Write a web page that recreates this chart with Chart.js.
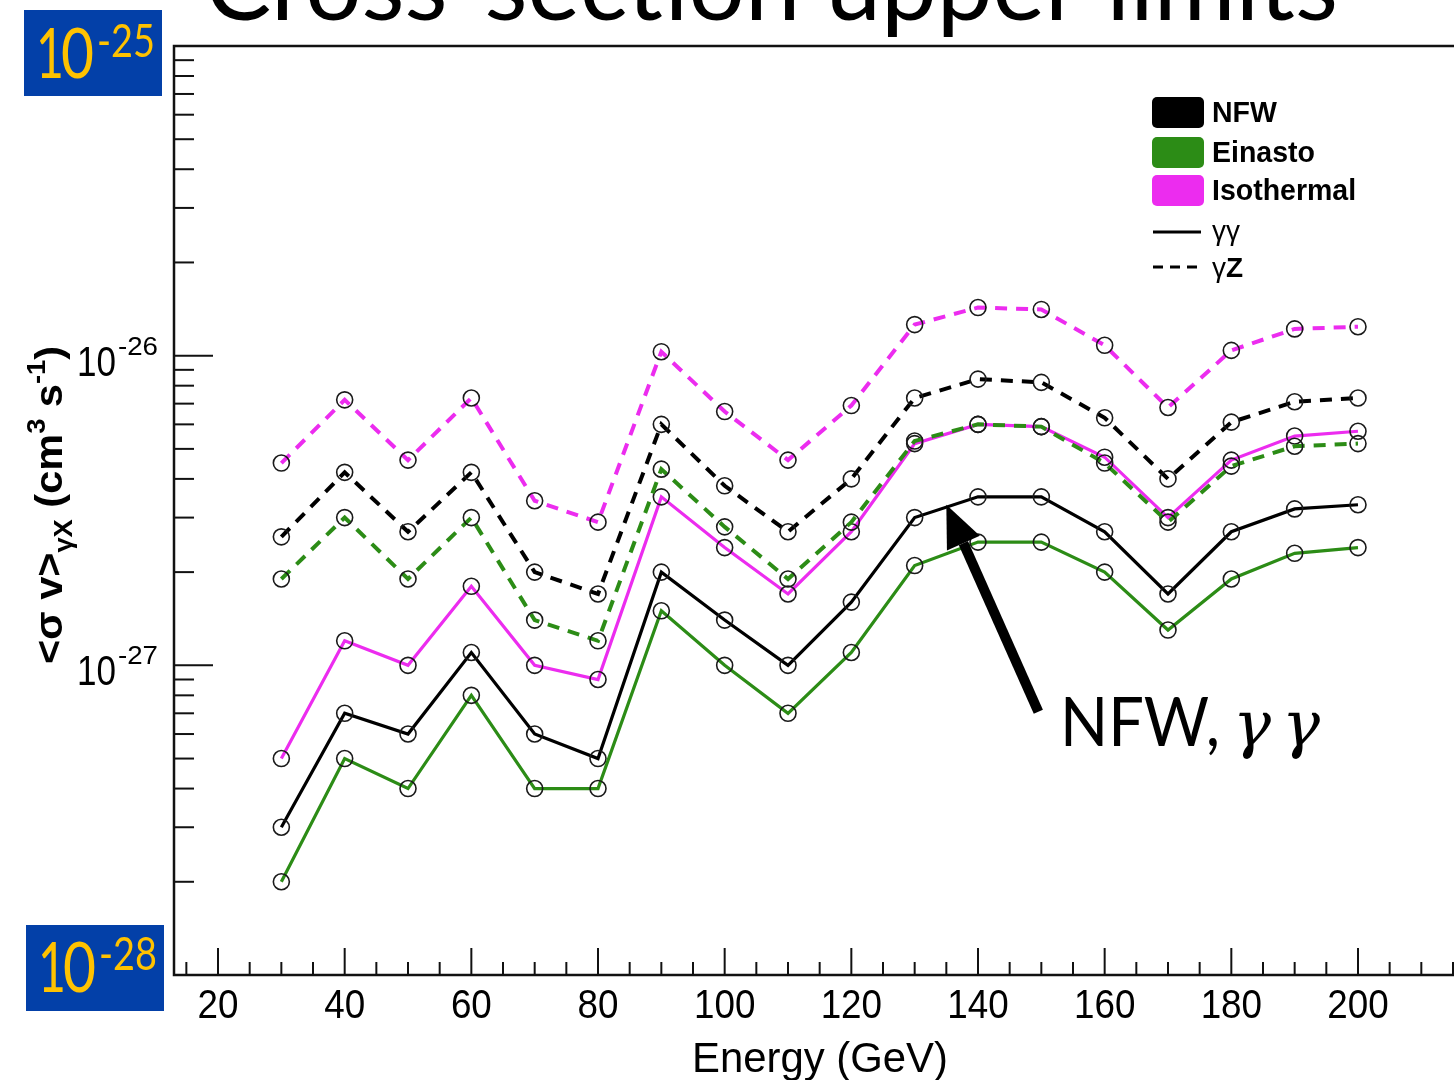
<!DOCTYPE html>
<html>
<head>
<meta charset="utf-8">
<script src="https://cdn.jsdelivr.net/npm/chart.js@4.4.1/dist/chart.umd.min.js"></script>
<style>
  html, body { margin: 0; padding: 0; background: #fff; }
  #wrap { width: 1454px; height: 1080px; }
</style>
</head>
<body>
<div id="wrap"><canvas id="myChart" width="1454" height="1080"></canvas></div>
<script>
// energies in GeV
const energies = [30, 40, 50, 60, 70, 80, 90, 100, 110, 120, 130, 140, 150, 160, 170, 180, 190, 200];

// upper limits, in units of 1e-27 cm^3 s^-1
const UNIT = 1e-27;
const nfwGG = [0.30, 0.70, 0.60, 1.1, 0.60, 0.50, 2.0, 1.4, 1.0, 1.6, 3.0, 3.5, 3.5, 2.7, 1.7, 2.7, 3.2, 3.3];
const einastoGG = [0.20, 0.50, 0.40, 0.80, 0.40, 0.40, 1.5, 1.0, 0.70, 1.1, 2.1, 2.5, 2.5, 2.0, 1.3, 1.9, 2.3, 2.4];
const isoGG = [0.50, 1.2, 1.0, 1.8, 1.0, 0.90, 3.5, 2.4, 1.7, 2.7, 5.2, 6.0, 5.9, 4.7, 3.0, 4.6, 5.5, 5.7];
const nfwGZ = [2.6, 4.2, 2.7, 4.2, 2.0, 1.7, 6.0, 3.8, 2.7, 4.0, 7.3, 8.4, 8.2, 6.3, 4.0, 6.1, 7.1, 7.3];
const einastoGZ = [1.9, 3.0, 1.9, 3.0, 1.4, 1.2, 4.3, 2.8, 1.9, 2.9, 5.3, 6.0, 5.9, 4.5, 2.9, 4.4, 5.1, 5.2];
const isoGZ = [4.5, 7.2, 4.6, 7.3, 3.4, 2.9, 10.3, 6.6, 4.6, 6.9, 12.6, 14.3, 14.1, 10.8, 6.8, 10.4, 12.2, 12.4];

const xTickLabels = [20, 40, 60, 80, 100, 120, 140, 160, 180, 200];
const yTickExponents = [-26, -27];

const BLACK = "#000000";
const GREEN = "#2c8c16";
const MAGENTA = "#ec2cef";

function toPoints(vals) {
  return energies.map((e, i) => ({ x: e, y: vals[i] * UNIT }));
}

function series(label, vals, color, dashed) {
  return {
    label: label,
    data: toPoints(vals),
    borderColor: color,
    borderWidth: dashed ? 4 : 3.2,
    borderDash: dashed ? [12, 9] : [],
    pointStyle: "circle",
    pointRadius: 8,
    pointBorderWidth: 1.6,
    pointBorderColor: "#1a1a1a",
    pointBackgroundColor: "rgba(0,0,0,0)",
    tension: 0,
    fill: false,
  };
}

const SANS = "'Liberation Sans', Arial, sans-serif";
const GILL = "Lato, 'Open Sans', sans-serif";

// draw text squeezed horizontally to a given width
function fitText(ctx, text, x, y, width) {
  const w = ctx.measureText(text).width;
  ctx.save();
  ctx.translate(x, y);
  ctx.scale(width / w, 1);
  ctx.fillText(text, 0, 0);
  ctx.restore();
}

const decor = {
  id: "decor",
  afterDraw(chart) {
    const ctx = chart.ctx;
    const xs = chart.scales.x;
    const ys = chart.scales.y;
    const a = chart.chartArea;
    ctx.save();

    // title, cut at the top like the slide
    ctx.fillStyle = "#000";
    ctx.textBaseline = "alphabetic";
    ctx.textAlign = "left";
    ctx.font = "98px " + GILL;
    fitText(ctx, "Cross-section upper limits", 205, 20, 1133);

    // frame
    ctx.strokeStyle = "#111";
    ctx.lineWidth = 2.5;
    ctx.beginPath();
    ctx.moveTo(a.right, a.top);
    ctx.lineTo(a.left, a.top);
    ctx.lineTo(a.left, a.bottom);
    ctx.lineTo(a.right, a.bottom);
    ctx.stroke();

    // y ticks (inside)
    ctx.lineWidth = 2;
    for (let d = -28; d <= -26; d++) {
      for (let m = 1; m <= 9; m++) {
        const v = m * Math.pow(10, d);
        const py = ys.getPixelForValue(v);
        if (py < a.top + 2 || py > a.bottom - 2) continue;
        ctx.beginPath();
        ctx.moveTo(a.left, py);
        ctx.lineTo(a.left + (m === 1 ? 39 : 20), py);
        ctx.stroke();
      }
    }
    // x ticks (inside)
    for (let e = 15; e <= 215; e += 5) {
      const px = xs.getPixelForValue(e);
      if (px < a.left + 2 || px > a.right) continue;
      ctx.beginPath();
      ctx.moveTo(px, a.bottom);
      ctx.lineTo(px, a.bottom - (e % 20 === 0 ? 27 : 13));
      ctx.stroke();
    }

    // x labels
    ctx.fillStyle = "#000";
    ctx.font = "40px " + SANS;
    ctx.textAlign = "left";
    xTickLabels.forEach(v => {
      const s = String(v);
      const w = ctx.measureText(s).width * 0.92;
      fitText(ctx, s, xs.getPixelForValue(v) - w / 2, 1018, w);
    });
    ctx.font = "42px " + SANS;
    fitText(ctx, "Energy (GeV)", 692, 1072, 256);

    // y labels
    yTickExponents.forEach(ex => {
      const py = ys.getPixelForValue(Math.pow(10, ex));
      ctx.font = "42px " + SANS;
      fitText(ctx, "10", 77, py + 20, 39);
      ctx.font = "25px " + SANS;
      fitText(ctx, String(ex), 118, py - 1, 40);
    });

    // y title, rotated
    ctx.save();
    ctx.translate(62, 505);
    ctx.rotate(-Math.PI / 2);
    const parts = [
      ["<\u03c3 v>", 0, "bold 38px " + SANS],
      ["\u03b3X", -10, "bold 25px " + SANS],
      [" (cm", 0, "bold 38px " + SANS],
      ["3", 17, "bold 25px " + SANS],
      [" s", 0, "bold 38px " + SANS],
      ["-1", 17, "bold 25px " + SANS],
      [")", 0, "bold 38px " + SANS],
    ];
    let tot = 0;
    parts.forEach(p => { ctx.font = p[2]; tot += ctx.measureText(p[0]).width; });
    const k = 318 / tot;
    ctx.scale(k, 1);
    let cx = -tot / 2;
    parts.forEach(p => {
      ctx.font = p[2];
      ctx.fillText(p[0], cx, -p[1]);
      cx += ctx.measureText(p[0]).width;
    });
    ctx.restore();

    // legend
    const sw = [
      ["NFW", BLACK, 97],
      ["Einasto", GREEN, 137],
      ["Isothermal", MAGENTA, 175],
    ];
    ctx.textBaseline = "middle";
    sw.forEach(s => {
      ctx.fillStyle = s[1];
      ctx.beginPath();
      ctx.roundRect(1152, s[2], 52, 31, 5);
      ctx.fill();
      ctx.fillStyle = "#000";
      ctx.font = "bold 30px " + SANS;
      fitText(ctx, s[0], 1212, s[2] + 17, ctx.measureText(s[0]).width * 0.95);
    });
    ctx.strokeStyle = "#000";
    ctx.lineWidth = 3;
    ctx.beginPath();
    ctx.moveTo(1153, 232);
    ctx.lineTo(1201, 232);
    ctx.stroke();
    ctx.setLineDash([10, 7]);
    ctx.beginPath();
    ctx.moveTo(1153, 267);
    ctx.lineTo(1201, 267);
    ctx.stroke();
    ctx.setLineDash([]);
    ctx.font = "28px " + SANS;
    ctx.fillText("\u03b3\u03b3", 1212, 232);
    ctx.fillText("\u03b3", 1212, 269);
    const gw = ctx.measureText("\u03b3").width;
    ctx.font = "bold 28px " + SANS;
    ctx.fillText("Z", 1212 + gw, 269);

    // arrow to the NFW gamma-gamma line
    const tipX = xs.getPixelForValue(135);
    const tipY = ys.getPixelForValue(3.3e-27);
    const tailX = tipX + 92, tailY = tipY + 207;
    const len = Math.hypot(tailX - tipX, tailY - tipY);
    const ux = (tipX - tailX) / len, uy = (tipY - tailY) / len;
    const hl = 42, hw = 18;
    const bx = tipX - ux * hl, by = tipY - uy * hl;
    ctx.strokeStyle = "#000";
    ctx.lineWidth = 10;
    ctx.beginPath();
    ctx.moveTo(tailX, tailY);
    ctx.lineTo(bx, by);
    ctx.stroke();
    ctx.fillStyle = "#000";
    ctx.beginPath();
    ctx.moveTo(tipX, tipY);
    ctx.lineTo(bx - uy * hw, by + ux * hw);
    ctx.lineTo(bx + uy * hw, by - ux * hw);
    ctx.closePath();
    ctx.fill();

    ctx.textBaseline = "alphabetic";
    ctx.font = "68px " + GILL;
    fitText(ctx, "NFW,", 1060, 746, 160);
    ctx.font = "italic 64px 'DejaVu Serif', serif";
    fitText(ctx, "\u03b3", 1233, 746, 38);
    fitText(ctx, "\u03b3", 1282, 746, 38);

    // blue boxes with the decade limits
    const boxes = [
      [24, 10, 78, 57, "-25"],
      [26, 925, 992, 970, "-28"],
    ];
    boxes.forEach(b => {
      ctx.fillStyle = "#0340a8";
      ctx.fillRect(b[0], b[1], 138, 86);
      ctx.fillStyle = "#ffc200";
      ctx.font = "70px " + GILL;
      fitText(ctx, "1", b[0] + 12, b[2], 28);
      fitText(ctx, "0", b[0] + 37, b[2], 33);
      ctx.font = "47px " + GILL;
      fitText(ctx, b[4], b[0] + 73, b[3], 58);
    });

    ctx.restore();
  },
};

const config = {
  type: "line",
  data: {
    datasets: [
      series("Einasto γZ", einastoGZ, GREEN, true),
      series("NFW γZ", nfwGZ, BLACK, true),
      series("Isothermal γZ", isoGZ, MAGENTA, true),
      series("Einasto γγ", einastoGG, GREEN, false),
      series("NFW γγ", nfwGG, BLACK, false),
      series("Isothermal γγ", isoGG, MAGENTA, false),
    ],
  },
  options: {
    responsive: false,
    animation: false,
    layout: { autoPadding: false, padding: { left: 174, top: 46, right: 0, bottom: 105 } },
    plugins: { legend: { display: false }, tooltip: { enabled: false } },
    scales: {
      x: { type: "linear", min: 13.05, max: 215.16, display: false },
      y: { type: "logarithmic", min: 1e-28, max: 1e-25, display: false },
    },
  },
  plugins: [decor],
};

const ctx = document.getElementById("myChart").getContext("2d");
new Chart(ctx, config);
</script>
</body>
</html>
